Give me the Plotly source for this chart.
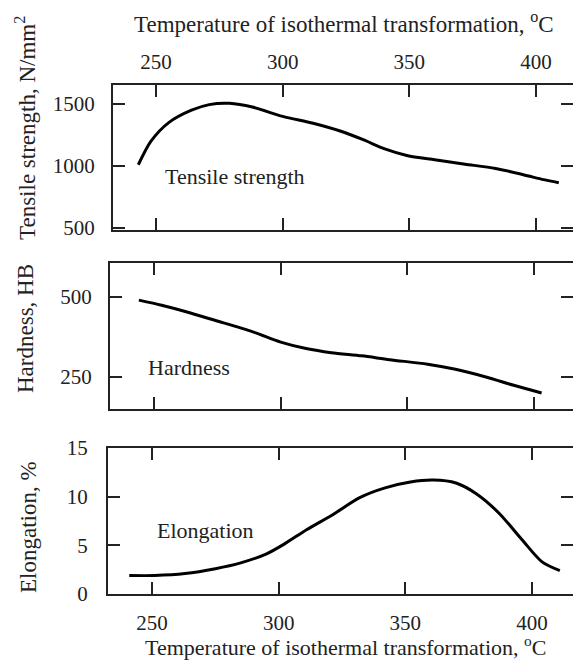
import plotly.graph_objects as go

# ---------------- data ----------------
tensile_T = [243, 248, 255, 264, 271, 279, 288, 300, 312, 323, 332, 340, 349, 360, 372, 384, 395, 403, 409]
tensile_V = [1010, 1200, 1350, 1450, 1495, 1505, 1475, 1400, 1345, 1280, 1210, 1140, 1085, 1050, 1015, 980, 930, 890, 865]

hardness_T = [244, 253, 263, 274, 289, 300, 310, 320, 332, 343, 358, 369, 381, 392, 403]
hardness_V = [490, 474, 453, 427, 391, 359, 339, 326, 316, 304, 290, 274, 250, 224, 200]

elong_T = [241, 251, 263, 275, 285, 295, 302, 311, 321, 332, 342, 352, 361, 370, 378, 387, 396, 404, 411]
elong_V = [1.9, 1.9, 2.1, 2.6, 3.2, 4.1, 5.1, 6.6, 8.1, 9.9, 10.9, 11.5, 11.7, 11.4, 10.3, 8.3, 5.6, 3.3, 2.4]

x_ticks = [250, 300, 350, 400]
tensile_ticks = [500, 1000, 1500]
hardness_ticks = [250, 500]
elong_ticks = [0, 5, 10, 15]

x_title = "Temperature of isothermal transformation, <sup>o</sup>C"
y_titles = ["Tensile strength, N/mm<sup>2</sup>", "Hardness, HB", "Elongation, %"]
labels = ["Tensile strength", "Hardness", "Elongation"]

# ---------------- layout helpers ----------------
W, H = 573, 662
FONT = "Liberation Serif"
INK = "#222222"


def px(x):
    return x / W


def py(y):
    return 1 - y / H


fig = go.Figure()
fig.add_trace(go.Scatter(x=tensile_T, y=tensile_V, mode="lines", line=dict(color="black", width=3, shape="spline", smoothing=0.8),
                         xaxis="x", yaxis="y", showlegend=False, hoverinfo="skip"))
fig.add_trace(go.Scatter(x=hardness_T, y=hardness_V, mode="lines", line=dict(color="black", width=3, shape="spline", smoothing=0.8),
                         xaxis="x2", yaxis="y2", showlegend=False, hoverinfo="skip"))
fig.add_trace(go.Scatter(x=elong_T, y=elong_V, mode="lines", line=dict(color="black", width=3, shape="spline", smoothing=0.8),
                         xaxis="x3", yaxis="y3", showlegend=False, hoverinfo="skip"))

common_ax = dict(showline=True, linecolor=INK, linewidth=2, ticks="inside", ticklen=12, tickwidth=2,
                 tickcolor=INK, mirror="ticks", showgrid=False, zeroline=False, automargin=False,
                 tickfont=dict(family=FONT, size=21, color=INK))

xdom = dict(x1=[px(113), 1.0], x2=[px(110), 1.0], x3=[px(108), 1.0])

fig.update_layout(
    template="none",
    width=W, height=H,
    margin=dict(l=0, r=0, t=0, b=0, pad=0),
    paper_bgcolor="white", plot_bgcolor="white",
    font=dict(family=FONT, color=INK),
    xaxis=dict(**common_ax, domain=xdom["x1"], range=[233.0, 414.6], tickvals=x_ticks, side="top",
               anchor="y", ticklabelstandoff=6),
    yaxis=dict(**common_ax, domain=[py(230), py(85)], range=[484, 1653], tickvals=tensile_ticks,
               anchor="x", ticklabelstandoff=12),
    xaxis2=dict(**common_ax, domain=xdom["x2"], range=[232.6, 415.4], tickvals=x_ticks, showticklabels=False,
                anchor="y2"),
    yaxis2=dict(**common_ax, domain=[py(409), py(263)], range=[150, 606], tickvals=hardness_ticks,
                anchor="x2", ticklabelstandoff=12),
    xaxis3=dict(**common_ax, domain=xdom["x3"], range=[232.6, 416.2], tickvals=x_ticks, side="bottom",
                anchor="y3", ticklabelstandoff=9),
    yaxis3=dict(**common_ax, domain=[py(594), py(448)], range=[0, 15], tickvals=elong_ticks,
                anchor="x3", ticklabelstandoff=14),
)

ann_font = dict(family=FONT, size=22, color=INK)
title_font = dict(family=FONT, size=23, color=INK)

annotations = [
    # x-axis titles
    dict(text=x_title, x=px(344), y=py(22), xref="paper", yref="paper", showarrow=False,
         xanchor="center", yanchor="middle", font=title_font),
    dict(text=x_title, x=px(345), y=py(646), xref="paper", yref="paper", showarrow=False,
         xanchor="center", yanchor="middle", font=dict(family=FONT, size=22, color=INK)),
    # y-axis titles
    dict(text=y_titles[0], x=px(26), y=py(128), xref="paper", yref="paper", showarrow=False, textangle=-90,
         xanchor="center", yanchor="middle", font=dict(family=FONT, size=23, color=INK)),
    dict(text=y_titles[1], x=px(25), y=py(329), xref="paper", yref="paper", showarrow=False, textangle=-90,
         xanchor="center", yanchor="middle", font=dict(family=FONT, size=23, color=INK)),
    dict(text=y_titles[2], x=px(28), y=py(527), xref="paper", yref="paper", showarrow=False, textangle=-90,
         xanchor="center", yanchor="middle", font=dict(family=FONT, size=23, color=INK)),
    # curve labels
    dict(text=labels[0], x=px(235), y=py(176), xref="paper", yref="paper", showarrow=False,
         xanchor="center", yanchor="middle", font=ann_font),
    dict(text=labels[1], x=px(189), y=py(367), xref="paper", yref="paper", showarrow=False,
         xanchor="center", yanchor="middle", font=ann_font),
    dict(text=labels[2], x=px(205), y=py(530), xref="paper", yref="paper", showarrow=False,
         xanchor="center", yanchor="middle", font=ann_font),
]
fig.update_layout(annotations=annotations)

fig.write_html(
    "out.html",
    config={"displayModeBar": False, "staticPlot": True},
    post_script="document.body.style.margin='0';document.body.style.padding='0';document.body.style.overflow='hidden';",
)
